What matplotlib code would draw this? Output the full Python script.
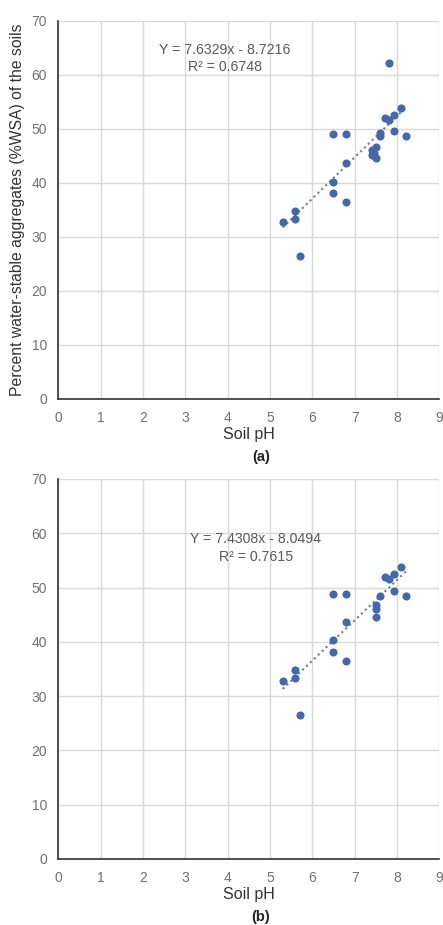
import matplotlib
matplotlib.use("Agg")
import matplotlib.pyplot as plt
import numpy as np

plt.rcParams['font.family'] = ['Liberation Sans', 'DejaVu Sans']

# Panel (a) data
ph_a = [5.3, 5.6, 5.6, 5.7, 6.5, 6.8, 6.8, 6.5, 6.5, 6.8, 7.42, 7.42, 7.5, 7.5, 7.46,
        7.6, 7.6, 7.72, 7.82, 7.92, 8.1, 7.82, 7.92, 8.21]
wsa_a = [32.7, 34.8, 33.3, 26.4, 49.0, 49.1, 43.6, 40.2, 38.2, 36.4, 46.0, 45.2, 46.6, 44.6, 45.6,
         49.2, 48.6, 52.0, 51.7, 52.5, 53.8, 62.1, 49.5, 48.7]
fit_a = (7.6329, -8.7216)
eq_a = ["Y = 7.6329x - 8.7216", "R² = 0.6748"]

# Panel (b) data
ph_b = [5.3, 5.6, 5.6, 5.7, 6.5, 6.8, 6.8, 6.5, 6.5, 6.8, 7.5, 7.5, 7.5,
        7.6, 7.72, 7.82, 7.92, 8.1, 7.92, 8.21]
wsa_b = [32.8, 34.8, 33.4, 26.6, 48.8, 48.8, 43.6, 40.3, 38.2, 36.4, 46.8, 46.0, 44.5,
         48.5, 51.9, 51.5, 52.5, 53.7, 49.3, 48.5]
fit_b = (7.4308, -8.0494)
eq_b = ["Y = 7.4308x - 8.0494", "R² = 0.7615"]

x_ticks = list(range(0, 10))
y_ticks = list(range(0, 80, 10))

W, H = 443, 925
fig = plt.figure(figsize=(W / 100, H / 100), dpi=100)

def fy(py):
    return 1 - py / H

ax_a = fig.add_axes([58.3 / W, fy(399), (439.3 - 58.3) / W, (399 - 20.7) / H])
ax_b = fig.add_axes([58.3 / W, fy(859), (439.3 - 58.3) / W, (859 - 479) / H])

pt_color = '#4468AC'
line_color = '#6B7B95'
tick_color = '#707070'

def style(ax, xs, ys, fit, eq, eq_pos):
    ax.set_xlim(0, 9)
    ax.set_ylim(0, 70)
    ax.set_xticks(x_ticks)
    ax.set_yticks(y_ticks)
    ax.grid(True, color='#D9D9D9', linewidth=1.0)
    ax.set_axisbelow(True)
    for s in ['top', 'right']:
        ax.spines[s].set_visible(False)
    for s in ['left', 'bottom']:
        ax.spines[s].set_color('#333333')
        ax.spines[s].set_linewidth(1.2)
    ax.tick_params(length=0, labelsize=10, colors=tick_color, pad=8)
    ax.tick_params(axis='x', pad=9)
    ax.scatter(xs, ys, s=34, color=pt_color, zorder=3, linewidths=0)
    xl = np.array([min(xs), max(xs)])
    ax.plot(xl, fit[0] * xl + fit[1], linestyle=(0, (1, 1.6)), color=line_color,
            linewidth=1.5, zorder=2)
    ax.text(eq_pos[0], eq_pos[1], "\n".join(eq), ha='center', va='center',
            fontsize=10.2, color='#595959', linespacing=1.3)
    ax.set_xlabel("Soil pH", fontsize=11.5, color='#333333', labelpad=1)

style(ax_a, ph_a, wsa_a, fit_a, eq_a, (3.93, 63.0))
style(ax_b, ph_b, wsa_b, fit_b, eq_b, (4.66, 57.3))

ax_a.set_ylabel("Percent water-stable aggregates (%WSA) of the soils",
                fontsize=11.3, color='#333333', labelpad=5)

fig.text(261 / W, fy(457), "(a)", ha='center', va='center', fontsize=10.5,
         fontweight='bold', color='#222222')
fig.text(261 / W, fy(917), "(b)", ha='center', va='center', fontsize=10.5,
         fontweight='bold', color='#222222')

fig.savefig("out.png", dpi=100)
